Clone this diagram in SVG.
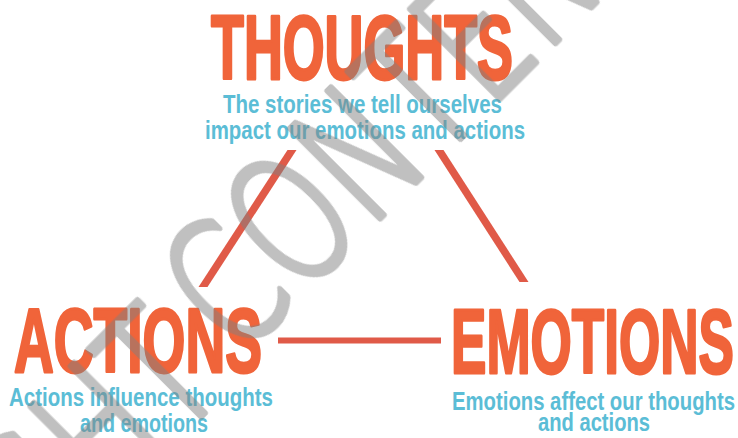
<svg xmlns="http://www.w3.org/2000/svg" width="738" height="438" viewBox="0 0 738 438">
<style>
.title{font-family:"Liberation Sans Narrow","Liberation Sans",Arial,sans-serif;font-weight:bold;font-size:91px;fill:#F0643A;stroke:#F0643A;stroke-width:3;stroke-linejoin:round}
.sub{font-family:"Liberation Sans Narrow","Liberation Sans",Arial,sans-serif;font-weight:bold;font-size:26px;fill:#5BBDD6}
.conn{fill:#E05A48}
.wm{font-family:"DejaVu Sans",sans-serif;font-weight:200;font-size:173px;fill:#808080;stroke:#808080;stroke-width:6;stroke-linejoin:round;stroke-linecap:round}
</style>
<rect width="738" height="438" fill="#FFFFFF"/>
<g id="connectors">
<polygon class="conn" points="287.5,150 296.5,150 207.5,287 198.5,287"/>
<polygon class="conn" points="434.5,150 443.5,150 528.5,282 519.5,282"/>
<rect class="conn" x="278" y="337.5" width="163" height="6"/>
</g>
<g id="node-thoughts">
<text class="title" x="211" y="78.5" textLength="302" lengthAdjust="spacingAndGlyphs">THOUGHTS</text>
<text class="sub" x="223" y="112.5" textLength="279" lengthAdjust="spacingAndGlyphs">The stories we tell ourselves</text>
<text class="sub" x="205" y="138.5" textLength="320" lengthAdjust="spacingAndGlyphs">impact our emotions and actions</text>
</g>
<g id="node-actions">
<text class="title" x="14" y="371.5" textLength="248" lengthAdjust="spacingAndGlyphs">ACTIONS</text>
<text class="sub" x="9" y="406" textLength="264" lengthAdjust="spacingAndGlyphs">Actions influence thoughts</text>
<text class="sub" x="80" y="432" textLength="128" lengthAdjust="spacingAndGlyphs">and emotions</text>
</g>
<g id="node-emotions">
<text class="title" x="451" y="373" textLength="283" lengthAdjust="spacingAndGlyphs">EMOTIONS</text>
<text class="sub" x="452" y="409.5" textLength="283" lengthAdjust="spacingAndGlyphs">Emotions affect our thoughts</text>
<text class="sub" x="538" y="431" textLength="112" lengthAdjust="spacingAndGlyphs">and actions</text>
</g>
<g id="watermark" opacity="0.5">
<text class="wm" transform="translate(41,575.5) rotate(-45) scale(0.72,1)" vector-effect="non-scaling-stroke">GHT</text>
<text class="wm" transform="translate(238,360) rotate(-45) scale(0.72,1)" vector-effect="non-scaling-stroke">CONTENT</text>
</g>
</svg>
